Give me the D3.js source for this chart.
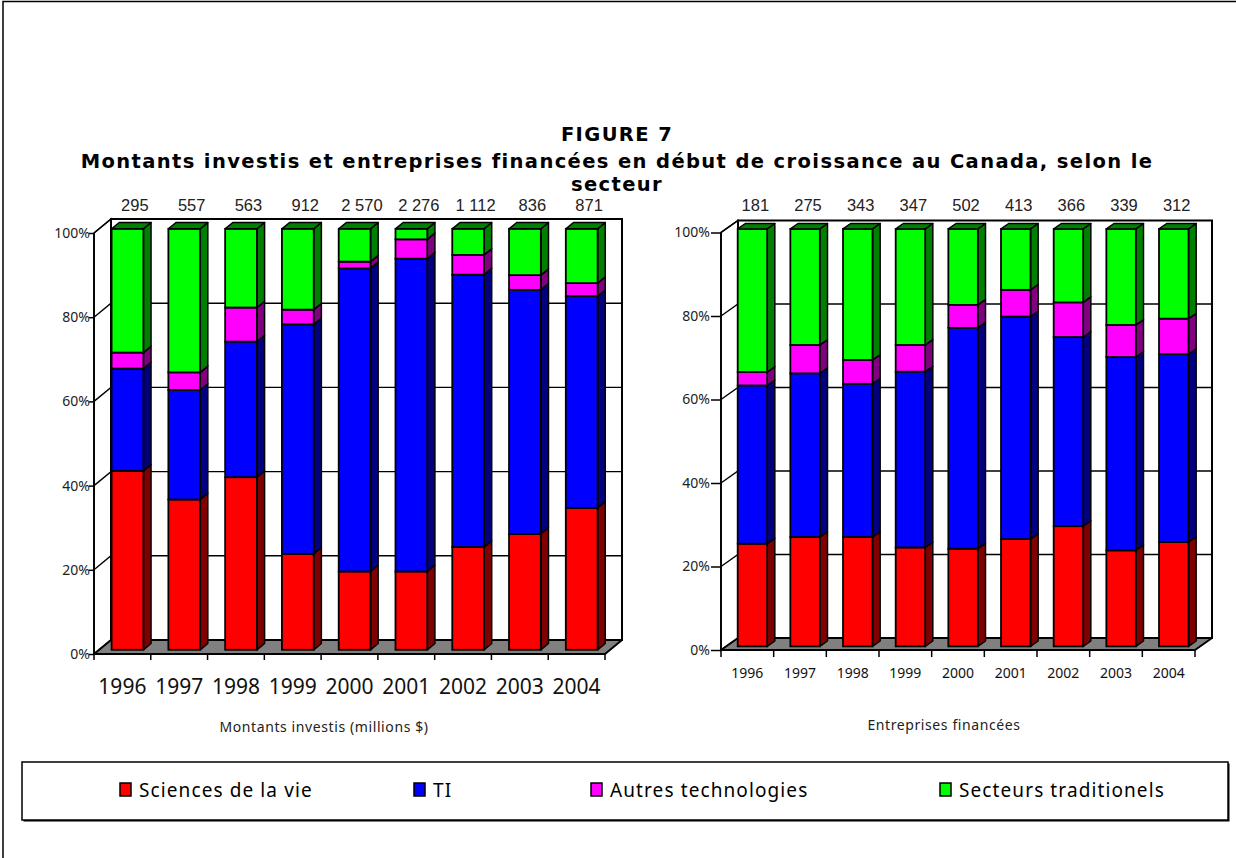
<!DOCTYPE html>
<html>
<head>
<meta charset="utf-8">
<script src="https://cdn.jsdelivr.net/npm/d3@7"></script>
<style>
  html, body { margin: 0; padding: 0; background: #fff; }
  svg { display: block; }
</style>
</head>
<body>
<svg id="chart" width="1236" height="858"></svg>
<script>
// ---------------- DATA ----------------
const years = ["1996", "1997", "1998", "1999", "2000", "2001", "2002", "2003", "2004"];
const seriesNames = ["Sciences de la vie", "TI", "Autres technologies", "Secteurs traditionels"];
const yTicks = [0, 20, 40, 60, 80, 100];

// Montants investis (millions $) — share by sector, %
const montantsTotals = ["295", "557", "563", "912", "2 570", "2 276", "1 112", "836", "871"];
const sciencesMontants = [42.5, 35.7, 41.0, 22.8, 18.6, 18.6, 24.4, 27.5, 33.7];
const tiMontants       = [24.3, 26.0, 32.2, 54.5, 72.0, 74.3, 64.7, 58.0, 50.3];
const autresMontants   = [3.8, 4.2, 8.1, 3.5, 1.6, 4.6, 4.7, 3.5, 3.1];
const tradMontants     = [29.4, 34.1, 18.7, 19.2, 7.8, 2.5, 6.2, 11.0, 12.9];

// Entreprises financées — share by sector, %
const entreprisesTotals = ["181", "275", "343", "347", "502", "413", "366", "339", "312"];
const sciencesEnt = [24.6, 26.2, 26.2, 23.7, 23.4, 25.7, 28.8, 23.0, 25.0];
const tiEnt       = [37.9, 39.2, 36.7, 42.1, 52.9, 53.3, 45.3, 46.3, 45.0];
const autresEnt   = [3.2, 6.8, 5.7, 6.4, 5.5, 6.4, 8.3, 7.7, 8.5];
const tradEnt     = [34.3, 27.8, 31.4, 27.8, 18.2, 14.6, 17.6, 23.0, 21.5];

// ---------------- STYLE ----------------
const frontColors = ["#ff0000", "#0000ff", "#ff00ff", "#00ff00"];
const sideColors  = ["#800000", "#000080", "#800080", "#008000"];
const FONT = "'Noto Sans', 'DejaVu Sans', sans-serif";
const TITLEFONT = "'DejaVu Sans', 'Noto Sans', sans-serif";
const NARROW = "'Liberation Sans Narrow', 'Arial Narrow', 'Liberation Sans', sans-serif";

const svg = d3.select("#chart");

// outer frame
svg.append("rect").attr("x", 3).attr("y", 1.5).attr("width", 1400).attr("height", 1000)
  .attr("fill", "none").attr("stroke", "#000").attr("stroke-width", 1.5);

// ---------------- TITLE ----------------
const titleLines = ["FIGURE 7",
  "Montants investis et entreprises financées en début de croissance au Canada, selon le",
  "secteur"];
const titleY = [141, 168, 191];
const titleG = svg.append("g");
const tt = titleG.selectAll("text").data(titleLines).join("text")
  .attr("x", 617).attr("y", (d, i) => titleY[i])
  .attr("text-anchor", "middle")
  .attr("font-family", TITLEFONT).attr("font-weight", "bold").attr("font-size", 19.5)
  .attr("fill", "#000").text(d => d);
// fit long line width to reference using letter spacing
{
  const node = tt.nodes()[1];
  const w = node.getComputedTextLength();
  const n = titleLines[1].length;
  const ls = Math.max(0, Math.min(2.5, (1072 - w) / n));
  tt.attr("letter-spacing", ls);
}

// ---------------- CHART FUNCTION ----------------
function drawChart(cfg) {
  const g = svg.append("g");
  const { x0, x1, yBase, yTop, dx, dy } = cfg;
  const x = d3.scaleBand().domain(years).range([x0, x1]).paddingInner(0).paddingOuter(0);
  const y = d3.scaleLinear().domain([0, 100]).range([yBase, yTop]);

  const rows = years.map((yr, i) => {
    const r = { year: yr };
    seriesNames.forEach((s, k) => r[s] = cfg.series[k][i]);
    return r;
  });
  const stacked = d3.stack().keys(seriesNames)(rows);

  const poly = pts => pts.map(p => p.join(",")).join(" ");

  // left side wall
  g.append("polygon")
    .attr("points", poly([[x0, yBase], [x0, yTop], [x0 + dx, yTop + dy], [x0 + dx, yBase + dy]]))
    .attr("fill", "#fff").attr("stroke", "#000").attr("stroke-width", 1.5);
  // back wall
  g.append("rect").attr("x", x0 + dx).attr("y", yTop + dy)
    .attr("width", x1 - x0).attr("height", yBase - yTop)
    .attr("fill", "#fff").attr("stroke", "#000").attr("stroke-width", 2);
  // gridlines
  const gridVals = yTicks.filter(t => t > 0 && t < 100);
  g.selectAll("polyline.grid").data(gridVals).join("polyline")
    .attr("class", "grid")
    .attr("points", t => poly([[x0, y(t)], [x0 + dx, y(t) + dy], [x1 + dx, y(t) + dy]]))
    .attr("fill", "none").attr("stroke", "#000").attr("stroke-width", 1.4);
  // top diagonal of side wall
  g.append("line").attr("x1", x0).attr("y1", yTop).attr("x2", x0 + dx).attr("y2", yTop + dy)
    .attr("stroke", "#000").attr("stroke-width", 1.5);
  // floor
  g.append("polygon")
    .attr("points", poly([[x0, yBase], [x1, yBase], [x1 + dx, yBase + dy], [x0 + dx, yBase + dy]]))
    .attr("fill", "#808080").attr("stroke", "#000").attr("stroke-width", 2).attr("stroke-linejoin", "round");

  // bars
  const bw = x.bandwidth() * 0.56;
  const f1 = 0.3, bd = 0.45;
  const ddx = bd * dx, ddy = bd * dy;
  const yf = v => y(v) + f1 * dy;
  const bx = yr => x(yr) + (x.bandwidth() - bw) / 2 + f1 * dx;

  years.forEach((yr, i) => {
    const bg = g.append("g");
    stacked.forEach((layer, k) => {
      const d = layer[i];
      const yTopS = yf(d[1]), yBotS = yf(d[0]);
      const X = bx(yr);
      // side
      bg.append("polygon")
        .attr("points", poly([[X + bw, yTopS], [X + bw + ddx, yTopS + ddy], [X + bw + ddx, yBotS + ddy], [X + bw, yBotS]]))
        .attr("fill", sideColors[k]).attr("stroke", "#000").attr("stroke-width", 1.5).attr("stroke-linejoin", "round");
      // front
      bg.append("rect").attr("x", X).attr("y", yTopS).attr("width", bw).attr("height", yBotS - yTopS)
        .attr("fill", frontColors[k]).attr("stroke", "#000").attr("stroke-width", 1.8);
      if (k === stacked.length - 1) {
        bg.append("polygon")
          .attr("points", poly([[X, yTopS], [X + ddx, yTopS + ddy], [X + bw + ddx, yTopS + ddy], [X + bw, yTopS]]))
          .attr("fill", sideColors[k]).attr("stroke", "#000").attr("stroke-width", 1.5).attr("stroke-linejoin", "round");
      }
    });
  });

  // front y axis
  const yAxis = d3.axisLeft(y).tickValues(yTicks).tickFormat(d => d + "%")
    .tickSize(cfg.tickLen).tickPadding(cfg.tickPad).tickSizeOuter(0);
  const ya = g.append("g").attr("transform", `translate(${x0},0)`).call(yAxis);
  ya.select(".domain").remove();
  ya.selectAll("line").attr("stroke", "#000").attr("stroke-width", 1.5);
  ya.selectAll("text").attr("font-family", FONT).attr("font-size", 14).attr("fill", "#222");
  g.append("line").attr("x1", x0).attr("y1", yBase).attr("x2", x0).attr("y2", yTop)
    .attr("stroke", "#000").attr("stroke-width", 1.8);

  // x axis labels
  const xAxis = d3.axisBottom(x).tickSize(0).tickPadding(cfg.xPad);
  const xa = g.append("g").attr("transform", `translate(0,${yBase})`).call(xAxis);
  xa.select(".domain").remove();
  xa.selectAll("text").attr("font-family", FONT).attr("font-size", cfg.xFont).attr("fill", "#111");
  // category boundary ticks
  const bounds = years.map(yr => x(yr)).concat([x1]);
  g.selectAll("line.xt").data(bounds).join("line").attr("class", "xt")
    .attr("x1", d => d).attr("x2", d => d).attr("y1", yBase).attr("y2", yBase + cfg.xTick)
    .attr("stroke", "#000").attr("stroke-width", 1.5);

  // totals above bars
  g.selectAll("text.tot").data(years).join("text").attr("class", "tot")
    .attr("x", (yr) => x(yr) + x.bandwidth() / 2 + cfg.valueOffset)
    .attr("y", cfg.valueY)
    .attr("text-anchor", "middle")
    .attr("font-family", NARROW).attr("font-size", 16.5).attr("fill", "#222")
    .text((yr, i) => cfg.totals[i]);

  // axis title
  g.append("text").attr("x", cfg.titleX).attr("y", cfg.titleY).attr("text-anchor", "middle")
    .attr("font-family", FONT).attr("font-size", 14).attr("letter-spacing", 0.6)
    .attr("fill", "#222").text(cfg.title);
}

drawChart({
  x0: 94, x1: 605, yBase: 654, yTop: 233, dx: 17, dy: -14,
  series: [sciencesMontants, tiMontants, autresMontants, tradMontants],
  totals: montantsTotals,
  tickLen: 5, tickPad: -1,
  xPad: 25, xFont: 21, xTick: 6,
  valueOffset: 12.5, valueY: 211,
  title: "Montants investis (millions $)", titleX: 324, titleY: 732
});

drawChart({
  x0: 721, x1: 1195, yBase: 650, yTop: 232.5, dx: 17, dy: -12,
  series: [sciencesEnt, tiEnt, autresEnt, tradEnt],
  totals: entreprisesTotals,
  tickLen: 10, tickPad: 1,
  xPad: 18, xFont: 14, xTick: 7,
  valueOffset: 8, valueY: 211,
  title: "Entreprises financées", titleX: 944, titleY: 730
});

// ---------------- LEGEND ----------------
const lg = svg.append("g");
lg.append("rect").attr("x", 23.5).attr("y", 763.5).attr("width", 1206).attr("height", 58)
  .attr("fill", "#000");
lg.append("rect").attr("x", 22).attr("y", 762).attr("width", 1206).attr("height", 58)
  .attr("fill", "#fff").attr("stroke", "#000").attr("stroke-width", 1.5);
const legendX = [120, 414, 591, 940];
const items = lg.selectAll("g.item").data(seriesNames).join("g").attr("class", "item")
  .attr("transform", (d, i) => `translate(${legendX[i]},0)`);
items.append("rect").attr("x", 0).attr("y", 783).attr("width", 11).attr("height", 13)
  .attr("fill", (d, i) => frontColors[i]).attr("stroke", "#000").attr("stroke-width", 1.5);
items.append("text").attr("x", 19).attr("y", 797)
  .attr("font-family", FONT).attr("font-size", 19).attr("letter-spacing", 1.1)
  .attr("fill", "#000").text(d => d);
</script>
</body>
</html>
